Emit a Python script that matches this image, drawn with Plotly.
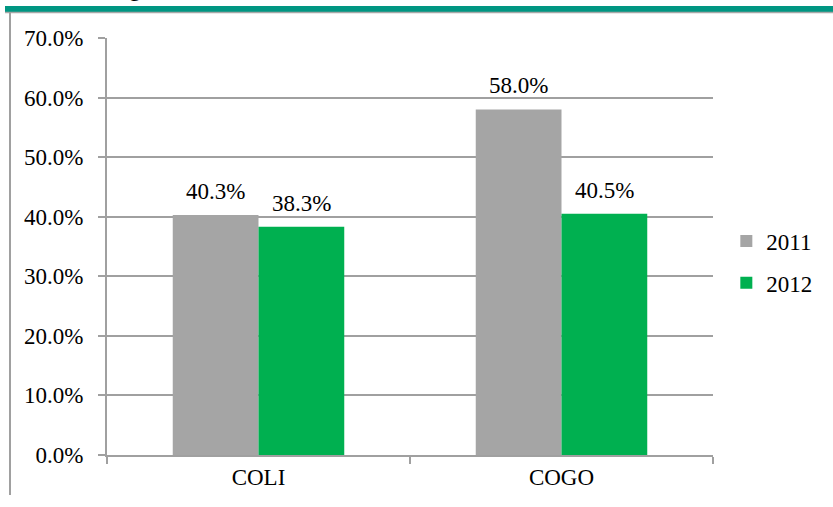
import plotly.graph_objects as go

categories = ["COLI", "COGO"]
series_names = ["2011", "2012"]
values_2011 = [40.3, 58.0]
values_2012 = [38.3, 40.5]
y_tick_vals = [0, 10, 20, 30, 40, 50, 60, 70]
y_tick_text = ["0.0%", "10.0%", "20.0%", "30.0%", "40.0%", "50.0%", "60.0%", "70.0%"]

W, H = 833, 507
ML, MR, MT, MB = 107, 120, 38, 52
FONT = "Liberation Serif"
FS = 23
AXC = "#a0a0a0"
BARGAP = 0.434

fig = go.Figure()
series = [(series_names[0], values_2011, "#a5a5a5"),
          (series_names[1], values_2012, "#00b050")]
for name, vals, col in series:
    fig.add_trace(go.Bar(
        x=categories, y=vals, name=name, marker_color=col,
        marker_line_width=0, cliponaxis=False, legendgroup=name,
    ))

pw, ph = W - ML - MR, H - MT - MB
bar_px = pw / len(categories) * (1 - BARGAP) / len(series)

# data labels above each bar
for k, (name, vals, col) in enumerate(series):
    off = (k - (len(series) - 1) / 2) * bar_px
    for cat, v in zip(categories, vals):
        fig.add_annotation(x=cat, y=v, text=f"{v:.1f}%", showarrow=False,
                           xshift=off, yshift=9, yanchor="bottom",
                           font=dict(family=FONT, size=FS, color="black"))

fig.update_layout(
    width=W, height=H,
    margin=dict(l=ML, r=MR, t=MT, b=MB),
    paper_bgcolor="white", plot_bgcolor="white",
    barmode="group", bargap=BARGAP, bargroupgap=0,
    font=dict(family=FONT, size=FS, color="black"),
    showlegend=True,
    legend=dict(x=1.022, y=0.463, yanchor="middle", xanchor="left",
                font=dict(family=FONT, size=FS, color="black"),
                tracegroupgap=9, traceorder="grouped", itemwidth=30),
    xaxis=dict(showline=True, linecolor=AXC, linewidth=2, ticks="outside",
               tickson="boundaries", ticklen=7, tickcolor=AXC, tickwidth=2,
               tickfont=dict(family=FONT, size=FS, color="black")),
    yaxis=dict(range=[0, 70], tickvals=y_tick_vals, ticktext=y_tick_text,
               showline=True, linecolor=AXC, linewidth=2, ticks="outside",
               ticklen=7, tickcolor=AXC, tickwidth=2, showgrid=True,
               gridcolor=AXC, gridwidth=1.5, zeroline=False,
               ticklabelstandoff=10,
               tickfont=dict(family=FONT, size=FS, color="black")),
)

def px_x(x):
    return (x - ML) / pw
def px_y(y):
    return (H - MB - y) / ph

# decorative frame pieces from the surrounding slide
fig.add_shape(type="rect", xref="paper", yref="paper",
              x0=px_x(5), x1=px_x(833), y0=px_y(12), y1=px_y(6),
              fillcolor="#009682", line_width=0, layer="above")
fig.add_shape(type="line", xref="paper", yref="paper",
              x0=px_x(5), x1=px_x(833), y0=px_y(12.5), y1=px_y(12.5),
              line=dict(color="#a8a8a8", width=1.5))
fig.add_shape(type="line", xref="paper", yref="paper",
              x0=px_x(10), x1=px_x(10), y0=px_y(12), y1=px_y(495),
              line=dict(color=AXC, width=2))
fig.add_annotation(xref="paper", yref="paper", x=px_x(127), y=px_y(-12),
                   text="g", showarrow=False,
                   font=dict(family=FONT, size=FS, color="black"),
                   yanchor="middle")

fig.write_html("out.html")
